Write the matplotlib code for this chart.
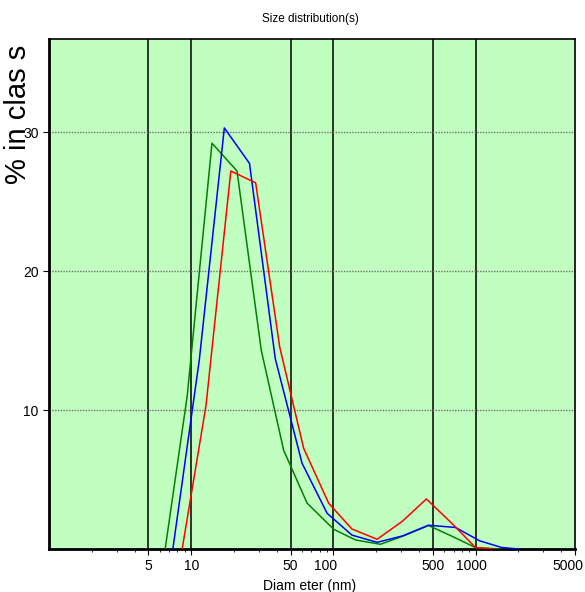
import matplotlib
matplotlib.use('Agg')
import matplotlib.pyplot as plt
import matplotlib.transforms as mtransforms
from matplotlib.ticker import FixedLocator, LogLocator, NullFormatter

plt.rcParams['font.family'] = ['Liberation Sans', 'DejaVu Sans']

# diameters (nm) and % in class
green_d = [6.56, 9.37, 14.0, 21.0, 31.1, 44.7, 65.3, 100.5, 143, 214, 316, 467, 688, 1000, 1500]
green_v = [0.0, 11.0, 29.2, 27.2, 14.3, 7.1, 3.3, 1.42, 0.65, 0.34, 0.97, 1.69, 0.9, 0.1, 0.0]

blue_d = [7.43, 11.4, 17.1, 25.7, 39.0, 60.2, 90.3, 135, 203, 306, 466, 723, 1067, 1524, 2009]
blue_v = [0.0, 13.6, 30.3, 27.75, 13.7, 6.17, 2.57, 1.0, 0.48, 0.94, 1.71, 1.55, 0.59, 0.11, 0.0]

red_d = [8.64, 12.7, 19.0, 28.4, 41.9, 61.8, 92.7, 135, 203, 306, 451, 680, 1000, 1339]
red_v = [0.0, 10.3, 27.2, 26.35, 14.55, 7.24, 3.29, 1.44, 0.70, 2.0, 3.6, 1.85, 0.1, 0.0]

x_ticks = [5, 10, 50, 100, 500, 1000, 5000]
x_tick_labels = ['5', '10', '50', '100', '500', '1000', '5000']
y_ticks = [10, 20, 30]


def main():
    fig = plt.figure(figsize=(5.85, 5.92), dpi=100)
    ax = fig.add_axes([49 / 585, 43 / 592, 526 / 585, 510 / 592])
    ax.set_facecolor('#c0ffc0')

    ax.set_xscale('log')
    ax.set_xlim(1, 5000)
    ax.set_ylim(0, 36.7)

    # grid: black verticals, dotted grey horizontals
    for xv in x_ticks[:-1]:
        ax.axvline(xv, color='black', lw=1.1, zorder=1)
    for yv in y_ticks:
        ax.axhline(yv, color='#707070', lw=1.0, ls=(0, (1, 1)), zorder=1)

    ax.plot(green_d, green_v, color='#008000', lw=1.1, zorder=3)
    ax.plot(blue_d, blue_v, color='#0000ff', lw=1.1, zorder=3)
    ax.plot(red_d, red_v, color='#ff0000', lw=1.1, zorder=3)

    ax.xaxis.set_major_locator(FixedLocator(x_ticks))
    ax.set_xticklabels(x_tick_labels)
    ax.xaxis.set_minor_locator(LogLocator(base=10, subs=range(2, 10)))
    ax.xaxis.set_minor_formatter(NullFormatter())
    ax.set_yticks(y_ticks)
    ax.tick_params(axis='both', which='major', labelsize=10, length=4, width=0.8)
    ax.tick_params(axis='x', which='minor', length=2, width=0.6)

    # nudge crowded tick labels to the left like the original
    shifts = {'100': -8, '1000': -4, '5000': -7}
    for lab in ax.get_xticklabels():
        dx = shifts.get(lab.get_text(), 0)
        if dx:
            off = mtransforms.ScaledTranslation(dx / 100, 0, fig.dpi_scale_trans)
            lab.set_transform(lab.get_transform() + off)

    for side in ['top', 'right']:
        ax.spines[side].set_linewidth(1.2)
    for side in ['left', 'bottom']:
        ax.spines[side].set_linewidth(2.0)

    fig.text(0.53, 0.968, 'Size distribution(s)', ha='center', va='center', fontsize=8.5)
    fig.text(0.53, 0.01, 'Diam eter (nm)', ha='center', va='center', fontsize=10)
    fig.text(0.03, 0.925, '% in clas s', ha='center', va='top', rotation=90, fontsize=21)

    fig.savefig('out.png', dpi=100)


if __name__ == '__main__':
    main()
